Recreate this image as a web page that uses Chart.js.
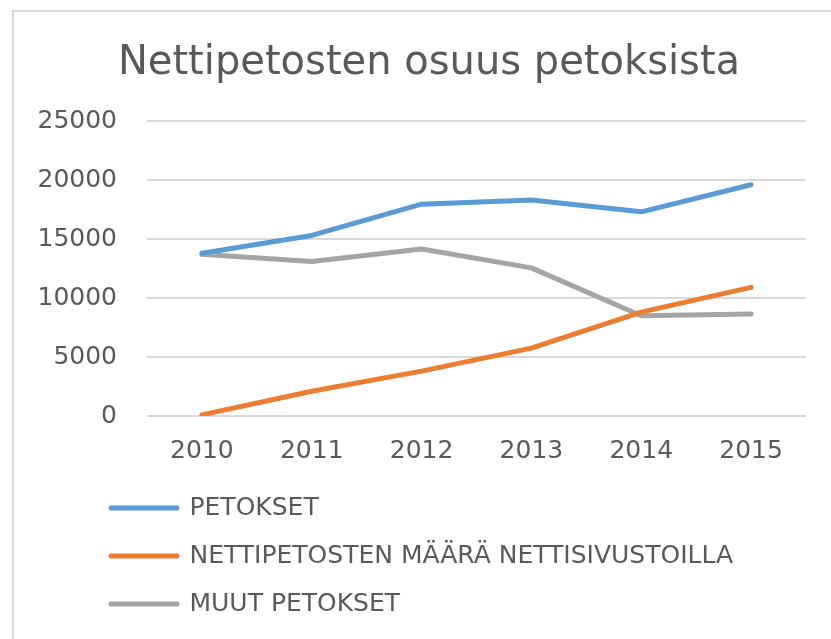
<!DOCTYPE html>
<html>
<head>
<meta charset="utf-8">
<script src="https://cdn.jsdelivr.net/npm/chart.js@4.4.1/dist/chart.umd.min.js"></script>
<style>
  html, body { margin: 0; padding: 0; background: #fff; overflow: hidden; }
  #frame { position: absolute; left: 12px; top: 10px; width: 840px; height: 660px; border: 2px solid #d9d9d9; }
  #wrap { position: absolute; left: 0; top: 0; width: 831px; height: 639px; }
</style>
</head>
<body>
<div id="frame"></div>
<div id="wrap"><canvas id="myChart" width="831" height="639"></canvas></div>
<script>
const years = ['2010', '2011', '2012', '2013', '2014', '2015'];
const petokset = [13800, 15300, 17950, 18300, 17300, 19600];
const nettipetokset = [100, 2100, 3800, 5750, 8800, 10900];
const muutPetokset = [13700, 13100, 14150, 12550, 8500, 8650];
const seriesNames = ['PETOKSET', 'NETTIPETOSTEN MÄÄRÄ NETTISIVUSTOILLA', 'MUUT PETOKSET'];
const seriesColors = ['#5b9bd5', '#ed7d31', '#a5a5a5'];

const textColor = '#595959';
const fontName = "'DejaVu Sans', sans-serif";

function makeSet(i, values) {
    return {
        label: seriesNames[i],
        data: values,
        borderColor: seriesColors[i],
        backgroundColor: seriesColors[i],
        borderWidth: 5,
        borderCapStyle: 'round',
        borderJoinStyle: 'round',
        pointRadius: 0,
        tension: 0
    };
}

// nudge title and legend to where the original has them
const blockShift = {
    id: 'blockShift',
    afterLayout(chart) {
        chart.legend.left = 88;
        chart.titleBlock.left += 7.5;
        chart.titleBlock.right += 7.5;
    }
};

const ctx = document.getElementById('myChart');

new Chart(ctx, {
    type: 'line',
    data: {
        labels: years,
        datasets: [
            makeSet(0, petokset),
            makeSet(1, nettipetokset),
            makeSet(2, muutPetokset)
        ]
    },
    options: {
        responsive: false,
        animation: false,
        layout: { padding: { left: 37, right: 25, top: 0, bottom: 12.5 } },
        plugins: {
            title: {
                display: true,
                text: 'Nettipetosten osuus petoksista',
                color: textColor,
                font: { family: fontName, size: 40, weight: 'normal' },
                padding: { top: 40, bottom: 33 }
            },
            legend: {
                position: 'bottom',
                align: 'start',
                labels: {
                    color: textColor,
                    font: { family: fontName, size: 25 },
                    boxWidth: 66,
                    boxHeight: 0,
                    padding: 23
                }
            },
            tooltip: { enabled: false }
        },
        scales: {
            x: {
                offset: true,
                grid: { display: false },
                border: { display: false },
                ticks: {
                    color: textColor,
                    font: { family: fontName, size: 25 },
                    padding: 12,
                    maxRotation: 0
                },
                afterFit(scale) { scale.height = 56.5; }
            },
            y: {
                min: 0,
                max: 25000,
                grid: { color: '#d9d9d9', lineWidth: 2, drawTicks: false },
                border: { display: false },
                ticks: {
                    stepSize: 5000,
                    color: textColor,
                    font: { family: fontName, size: 25 },
                    padding: 30,
                    callback: v => String(v)
                },
                afterFit(scale) { scale.width = 110; }
            }
        }
    },
    plugins: [blockShift]
});
</script>
</body>
</html>
